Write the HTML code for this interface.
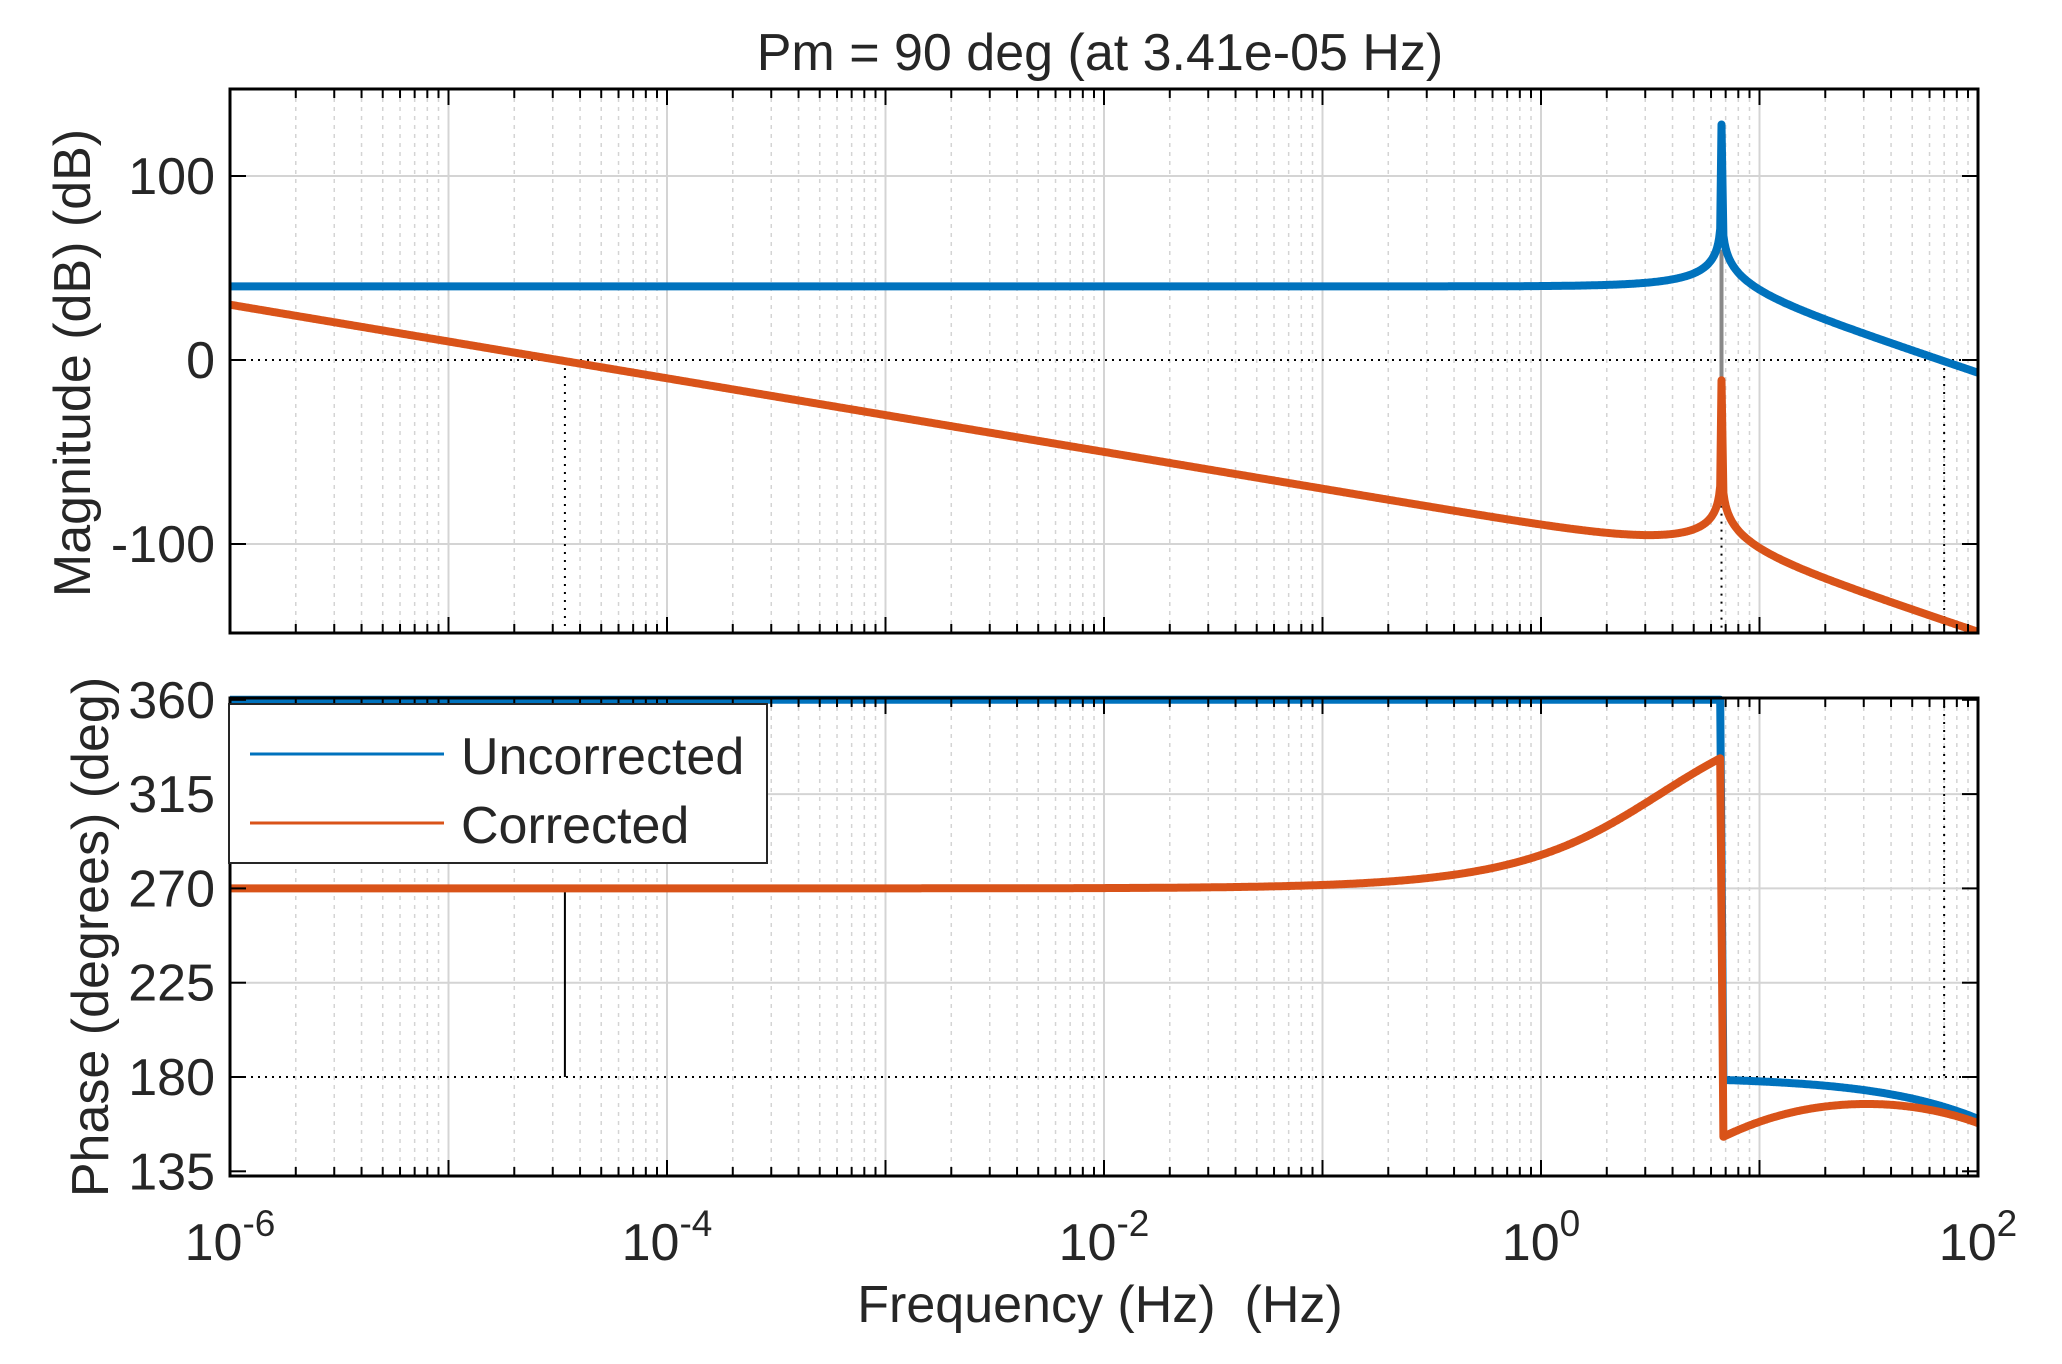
<!DOCTYPE html>
<html><head><meta charset="utf-8"><style>
html,body{margin:0;padding:0;background:#fff;}
svg{display:block;font-family:"Liberation Sans",Arial,sans-serif;}
</style></head><body>
<svg id="s" width="2062" height="1364" xmlns="http://www.w3.org/2000/svg"></svg>
<script>
const S=document.getElementById('s');
const L=230,R=1978,dec=(R-L)/8;
const X=f=>L+(Math.log10(f)+6)*dec;
const mT=89,mB=633; const My=d=>360-d*1.84;
const pT=698,pB=1176; const Py=p=>1077-(p-180)*94.3/45;
let h='';
function line(x1,y1,x2,y2,st){h+=`<line x1="${x1}" y1="${y1}" x2="${x2}" y2="${y2}" ${st}/>`;}
function grid(top,bot,ys){
  for(let d=-6;d<2;d++){for(let k=1;k<10;k++){const x=X(k*Math.pow(10,d));
    if(k==1){if(d>-6)line(x,top,x,bot,'stroke="#d4d4d4" stroke-width="2"');}
    else line(x,top,x,bot,'stroke="#d4d4d4" stroke-width="1.5" stroke-dasharray="4,5"');}}
  ys.forEach(y=>line(L,y,R,y,'stroke="#d4d4d4" stroke-width="2"'));
}
grid(mT,mB,[My(100),My(-100)]);
grid(pT,pB,[Py(315),Py(270),Py(225)]);
line(L,My(0),R,My(0),'stroke="#000" stroke-width="2" stroke-dasharray="2,5"');
line(L,Py(180),R,Py(180),'stroke="#000" stroke-width="2" stroke-dasharray="2,5"');
const fpm=3.41e-5,fn=6.7,fg=70;
line(X(fpm),My(0),X(fpm),mB,'stroke="#000" stroke-width="2" stroke-dasharray="2,6"');
line(X(fn),My(-40),X(fn),mB,'stroke="#000" stroke-width="2" stroke-dasharray="2,6"');
line(X(fg),My(0),X(fg),mB,'stroke="#000" stroke-width="2" stroke-dasharray="2,6"');
line(X(fg),pT,X(fg),Py(180),'stroke="#000" stroke-width="2" stroke-dasharray="2,6"');
line(X(fpm),Py(270),X(fpm),Py(180),'stroke="#000" stroke-width="2"');
line(X(fn),My(60),X(fn),My(-10),'stroke="#888" stroke-width="4"');
const K=2e-6,fz=3.5,fp=275,z=1e-5;
let bm=[],om=[],bp=[],op=[];
const N=1600;let spk=0;
for(let i=0;i<=N;i++){
  const f=Math.pow(10,-6+8*i/N);
  if(Math.abs(f-fn)/fn<0.012){
    if(!spk){spk=1;bm.push([X(fn),My(128)]);om.push([X(fn),My(-11)]);}
    continue;}
  const r=f/fn;const re=1-r*r,im=2*z*r;
  const g=100/Math.sqrt(re*re+im*im);
  const c=K*Math.sqrt(1+(f/fz)**2)/(2*Math.PI*f);
  bm.push([X(f),My(20*Math.log10(g))]);
  om.push([X(f),My(20*Math.log10(g*c))]);
  let ph=(f<fn)?360:180-Math.atan(f/fp)*180/Math.PI;
  bp.push([X(f),Py(ph)]);
  op.push([X(f),Py(ph-90+Math.atan(f/fz)*180/Math.PI)]);
}
function toP(a){return 'M'+a.map(p=>p[0].toFixed(1)+','+p[1].toFixed(1)).join(' L');}
function path(a,c,id){h+=`<path d="${toP(a)}" fill="none" stroke="${c}" stroke-width="8" stroke-linejoin="round" clip-path="url(#${id})"/>`;}
h+=`<defs><clipPath id="cm"><rect x="${L}" y="${mT-4}" width="${R-L+4}" height="${mB-mT+4}"/></clipPath><clipPath id="cp"><rect x="${L}" y="${pT-4}" width="${R-L+4}" height="${pB-pT+4}"/></clipPath></defs>`;
path(bm,'#0072BD','cm');
path(om,'#D95319','cm');
path(bp,'#0072BD','cp');
path(op,'#D95319','cp');
function box(top,bot,yt){
  h+=`<rect x="${L}" y="${top}" width="${R-L}" height="${bot-top}" fill="none" stroke="#000" stroke-width="3"/>`;
  for(let d=-6;d<=2;d++){for(let k=1;k<10;k++){if(d==2&&k>1)break;const x=X(k*Math.pow(10,d));const t=k==1?16:9;
    line(x,bot,x,bot-t,'stroke="#000" stroke-width="2"');line(x,top,x,top+t,'stroke="#000" stroke-width="2"');}}
  yt.forEach(y=>{line(L,y,L+16,y,'stroke="#000" stroke-width="2"');line(R,y,R-16,y,'stroke="#000" stroke-width="2"');});
}
box(mT,mB,[My(100),My(0),My(-100)]);
box(pT,pB,[Py(360),Py(315),Py(270),Py(225),Py(180),Py(135)]);
function tx(x,y,s,a,fs){h+=`<text x="${x}" y="${y}" font-size="${fs||52}" text-anchor="${a||'end'}" fill="#262626">${s}</text>`;}
[100,0,-100].forEach(v=>tx(215,My(v)+18,v));
[360,315,270,225,180,135].forEach(v=>tx(215,Py(v)+18,v));
for(let d=-6;d<=2;d+=2){const x=X(Math.pow(10,d));
  h+=`<text x="${x}" y="1260" font-size="52" text-anchor="middle" fill="#262626">10<tspan dy="-24" font-size="37">${d}</tspan></text>`;}
tx(1100,70,'Pm = 90 deg (at 3.41e-05 Hz)','middle',52);
tx(1100,1322,'Frequency (Hz)&#160; (Hz)','middle',52);
h+=`<text transform="translate(90,363) rotate(-90)" font-size="52" text-anchor="middle" fill="#262626">Magnitude (dB) (dB)</text>`;
h+=`<text transform="translate(108,937) rotate(-90)" font-size="52" text-anchor="middle" fill="#262626">Phase (degrees) (deg)</text>`;
h+=`<rect x="229" y="704" width="538" height="159" fill="#fff" stroke="#262626" stroke-width="2"/>`;
line(250,754,444,754,'stroke="#0072BD" stroke-width="3"');
line(250,823,444,823,'stroke="#D95319" stroke-width="3"');
tx(461,774,'Uncorrected','start',52);
tx(461,843,'Corrected','start',52);
S.innerHTML=h;
</script>
</body></html>
